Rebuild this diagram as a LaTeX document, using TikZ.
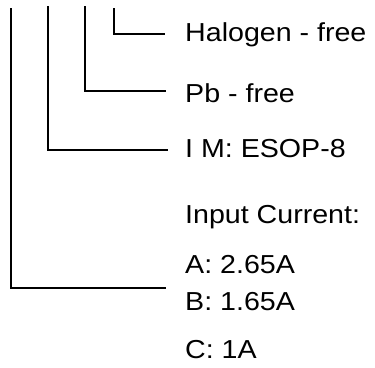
\documentclass[tikz,border=0pt]{standalone}
\usepackage{fontspec}
\setmainfont[FakeStretch=1.1]{Liberation Sans}
\usetikzlibrary{positioning}
\tikzset{
    label text/.style = {
        anchor = base west,
        inner sep = 0pt,
        font = \fontsize{26}{30}\selectfont,
        },
    lead/.style = {
        draw = black,
        line width = 2pt,
        },
}
\begin{document}
\begin{tikzpicture}[x=1pt, y=-1pt]
            \useasboundingbox (0,0) rectangle (375,367);
            \node[label text] (halogen) at (185,41.7) {Halogen - free};
            \node[label text] (pb) at (185,102.3) {Pb - free};
            \node[label text] (im) at (185,157.3) {I M: ESOP-8};
            \node[label text] (input) at (185,223.3) {Input Current:};
            \node[label text] (ia) at (185,273.3) {A: 2.65A};
            \node[label text] (ib) at (185,310) {B: 1.65A};
            \node[label text] (ic) at (185,358.3) {C: 1A};

            \coordinate (top1) at (11,8);
            \coordinate (end1) at (166,288.3);
            \coordinate (top2) at (48,6);
            \coordinate (end2) at (168,150);
            \coordinate (top3) at (85,6);
            \coordinate (end3) at (166,90.7);
            \coordinate (top4) at (114,8);
            \coordinate (end4) at (165,34);

            \draw[lead] (top1) |- (end1);
            \draw[lead] (top2) |- (end2);
            \draw[lead] (top3) |- (end3);
            \draw[lead] (top4) |- (end4);
        \end{tikzpicture}
\end{document}
